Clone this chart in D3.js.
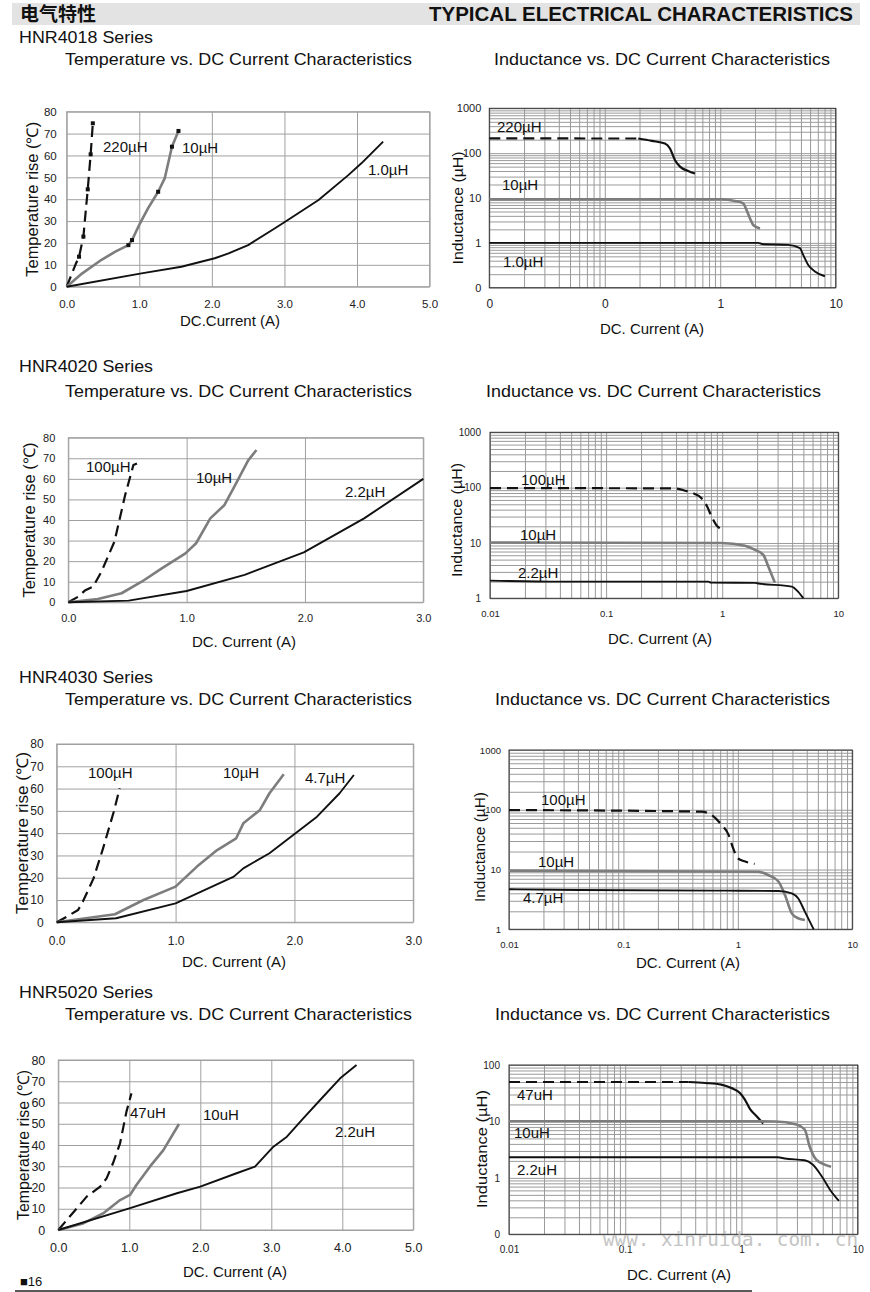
<!DOCTYPE html>
<html><head><meta charset="utf-8">
<script src="https://cdn.jsdelivr.net/npm/d3@7"></script>
<style>
body{margin:0;background:#fff}
svg{display:block}
text{font-family:"Liberation Sans",Arial,Helvetica,sans-serif;fill:#111}
</style>
</head><body>
<svg id="c" width="870" height="1292"></svg>
<script>
// ---------------- DATA ----------------
const tempYTicks = [0,10,20,30,40,50,60,70,80];
const tempXTicks5 = [0,1,2,3,4,5];
const tempXLabels5 = ["0.0","1.0","2.0","3.0","4.0","5.0"];
const tempXTicks3 = [0,1,2,3];
const tempXLabels3 = ["0.0","1.0","2.0","3.0"];

// HNR4018 temperature
const t1_220 = [[0,0],[0.12,10],[0.17,13.7],[0.23,22.9],[0.29,44.5],[0.33,60.5],[0.36,74.7]];
const t1_220_marks = [[0.17,13.7],[0.23,22.9],[0.29,44.5],[0.33,60.5],[0.36,74.7]];
const t1_10 = [[0,0],[0.21,6],[0.48,12.3],[0.67,16],[0.85,19],[0.9,21.3],[1.01,29],[1.12,35.8],[1.26,43.4],[1.35,49.5],[1.45,64],[1.54,71.2]];
const t1_10_marks = [[0.85,19],[0.9,21.3],[1.26,43.4],[1.45,64],[1.54,71.2]];
const t1_1 = [[0,0],[1.03,6.1],[1.58,9.1],[2.04,13],[2.23,15.2],[2.5,19],[2.87,26.7],[3.01,29.7],[3.47,39.6],[3.88,51],[4.06,56.4],[4.36,66.3]];

// HNR4018 inductance
const l1_xLabels = ["0","0","1","10"];
const l1_yLabels = ["0","1","10","100","1000"];
const l1_220 = [[0.01,213],[0.195,212],[0.255,188],[0.332,164],[0.367,127],[0.405,70],[0.448,50],[0.528,40],[0.604,35]];
const l1_10 = [[0.01,9.4],[1.03,9.4],[1.34,8.6],[1.58,7.6],[1.69,5.4],[1.81,3.5],[1.93,2.5],[2.21,2.1]];
const l1_1 = [[0.01,1.0],[2.14,1.0],[2.3,0.94],[3.88,0.9],[4.9,0.76],[5.23,0.54],[5.78,0.32],[6.6,0.23],[8.06,0.18]];

// HNR4020 temperature
const t2_100 = [[0,0],[0.085,2.75],[0.14,5.7],[0.21,7.6],[0.28,14.9],[0.39,29.5],[0.48,52],[0.55,66.7],[0.58,67.5]];
const t2_10 = [[0,0],[0.25,1.6],[0.45,4.4],[0.62,10],[0.79,16.5],[0.99,23.8],[1.08,28.7],[1.2,40.8],[1.32,47.3],[1.41,57],[1.52,69],[1.59,74]];
const t2_22 = [[0,0],[0.51,0.8],[1.0,5.5],[1.49,13.3],[1.99,24.3],[2.5,40.8],[3.0,60]];

// HNR4020 inductance
const logXLabels = ["0.01","0.1","1","10"];
const l2_yLabels = ["1","10","100","1000"];
const l2_100 = [[0.01,98],[0.39,97],[0.48,88],[0.58,77],[0.66,65],[0.74,46],[0.81,30],[0.89,21],[0.98,17.8]];
const l2_10 = [[0.01,10.2],[0.98,10.0],[1.57,8.9],[1.92,7.5],[2.26,6.1],[2.5,3.7],[2.84,1.92]];
const l2_22 = [[0.01,2.09],[0.04,2.0],[0.76,2.0],[0.8,1.92],[1.92,1.9],[2.0,1.87],[3.97,1.63],[4.5,1.32],[5.0,1.0]];

// HNR4030 temperature
const t3_100 = [[0,0],[0.084,2.5],[0.18,5.5],[0.22,9.3],[0.31,19.7],[0.39,33.2],[0.48,49.6],[0.53,60.1]];
const t3_10 = [[0,0],[0.49,3.6],[0.73,10],[1.0,16],[1.18,25],[1.35,32.4],[1.51,37.7],[1.57,44.4],[1.71,50.4],[1.79,57.9],[1.91,66.4]];
const t3_47 = [[0,0],[0.5,1.8],[1.0,8.5],[1.49,20.5],[1.57,24.2],[1.79,31],[1.99,39.2],[2.19,47.4],[2.38,57.9],[2.5,66.1]];

// HNR4030 inductance
const l3_100 = [[0.01,99],[0.48,93],[0.59,82],[0.72,56],[0.83,38],[0.91,22.6],[1.0,15.4],[1.16,13.6],[1.4,12.4]];
const l3_10 = [[0.01,9.6],[1.5,9.2],[1.84,8.1],[2.26,6.3],[2.58,3.75],[2.96,1.85],[3.36,1.53],[3.85,1.43]];
const l3_47 = [[0.01,4.67],[0.04,4.55],[0.77,4.43],[2.26,4.38],[2.96,4.0],[3.36,3.3],[3.85,1.98],[4.6,1.0]];

// HNR5020 temperature
const t4_47 = [[0,0],[0.4,15.7],[0.59,20.4],[0.68,24.3],[0.77,31.4],[0.87,40.8],[0.96,55.7],[1.03,64.3]];
const t4_10 = [[0,0],[0.35,3.1],[0.63,7.8],[0.87,14.1],[1.01,16.5],[1.1,21.2],[1.29,29.8],[1.48,37.6],[1.7,49.9]];
const t4_22 = [[0,0],[1.0,10.2],[1.67,17.3],[2.0,20.4],[2.51,26.7],[2.77,29.8],[3.03,39.2],[3.22,43.9],[3.45,52.5],[3.73,62.7],[3.97,71.4],[4.2,77.6]];

// HNR5020 inductance
const l4_yLabels = ["0","1","10","100"];
const l4_47 = [[0.01,50],[0.35,50],[0.49,48],[0.67,45],[0.82,39],[0.97,32],[1.07,24.4],[1.19,16.3],[1.35,12.4],[1.54,9.2]];
const l4_10 = [[0.01,10.1],[1.95,10.0],[2.98,8.8],[3.5,7.2],[3.86,3.6],[4.4,2.1],[5.2,1.72],[5.9,1.57]];
const l4_22 = [[0.01,2.32],[2.06,2.32],[2.36,2.2],[3.5,2.05],[4.1,1.72],[4.9,1.07],[5.9,0.58],[6.9,0.39]];

const seriesNames = ["HNR4018 Series","HNR4020 Series","HNR4030 Series","HNR5020 Series"];

// ---------------- DRAW ----------------
const svg = d3.select("#c");
const FONT = '"Liberation Sans",Arial,Helvetica,sans-serif';

const STY = {
  dash: {stroke:"#111", w:2.2, dash:"11,6"},
  gray: {stroke:"#7d7d7d", w:2.6, dash:null},
  solid:{stroke:"#111", w:1.9, dash:null}
};

function txt(x,y,s,opt={}){
  const t = svg.append("text").attr("x",x).attr("y",y).text(s)
    .attr("font-size",opt.size||15)
    .attr("font-weight",opt.bold?"bold":"normal")
    .attr("text-anchor",opt.anchor||"start");
  if(opt.len){t.attr("textLength",opt.len).attr("lengthAdjust","spacingAndGlyphs");}
  if(opt.fill) t.style("fill",opt.fill);
  if(opt.family) t.style("font-family",opt.family);
  return t;
}
function vtxt(cx,cy,s,size,len){
  const t = svg.append("text").attr("transform",`translate(${cx},${cy}) rotate(-90)`)
    .attr("text-anchor","middle").attr("dy","0.35em").attr("font-size",size).text(s);
  if(len) t.attr("textLength",len).attr("lengthAdjust","spacingAndGlyphs");
}

function drawSeries(g,x,y,s,curve){
  const st = STY[s.style];
  const line = d3.line().x(d=>x(d[0])).y(d=>y(d[1])).curve(curve);
  let parts = [{data:s.data,dash:st.dash}];
  if(s.dashTo!==undefined){
    parts = [{data:s.data.filter(d=>d[0]<=s.dashTo),dash:st.dash},
             {data:s.data.filter(d=>d[0]>=s.dashTo),dash:null}];
  }
  parts.forEach(pt=>{
    const p = g.append("path").datum(pt.data).attr("d",line).attr("fill","none")
      .attr("stroke",st.stroke).attr("stroke-width",st.w)
      .attr("stroke-linejoin","round");
    if(pt.dash) p.attr("stroke-dasharray",pt.dash);
  });
}

function tempChart(c){
  const x = d3.scaleLinear().domain([0,c.xmax]).range([c.l,c.r]);
  const y = d3.scaleLinear().domain([0,80]).range([c.b,c.t]);
  const g = svg.append("g");
  const h = c.b-c.t, w = c.r-c.l;
  const gx = g.append("g").attr("transform",`translate(0,${c.b})`)
    .call(d3.axisBottom(x).tickValues(c.xticks).tickSize(-h).tickPadding(c.xpad)
      .tickFormat((d,i)=>c.xlabels[i]));
  const gy = g.append("g").attr("transform",`translate(${c.l},0)`)
    .call(d3.axisLeft(y).tickValues(tempYTicks).tickSize(-w).tickPadding(c.ypad)
      .tickFormat(d=>String(d)));
  [gx,gy].forEach(a=>{
    a.select(".domain").remove();
    a.selectAll("line").attr("stroke","#a0a0a0").attr("stroke-width",1);
    a.selectAll("text").attr("font-size",c.fs).attr("font-family",FONT).style("fill","#222");
  });
  g.append("rect").attr("x",c.l).attr("y",c.t).attr("width",w).attr("height",h)
    .attr("fill","none").attr("stroke","#a0a0a0");
  c.series.forEach(s=>drawSeries(g,x,y,s,d3.curveLinear));
  (c.marks||[]).forEach(m=>{
    g.selectAll(null).data(m).enter().append("rect")
      .attr("x",d=>x(d[0])-2).attr("y",d=>y(d[1])-2).attr("width",4).attr("height",4).attr("fill","#111");
  });
  c.labels.forEach(l=>txt(l.x,l.y,l.t,{size:15}));
  vtxt(c.ytx,(c.t+c.b)/2,"Temperature rise (℃)",16,c.ytlen);
  txt(c.xtx,c.xty,c.xtitle,{size:15,anchor:"middle"});
}

function logTicks(lo,hi){
  const out=[];
  for(let d=lo; d<hi*0.999; d*=10){ for(let m=1;m<=9;m++) out.push(+(m*d).toPrecision(3)); }
  out.push(hi);
  return out;
}
function decades(lo,hi){const out=[];for(let d=lo;d<=hi*1.001;d*=10)out.push(+d.toPrecision(3));return out;}

function indChart(c){
  const x = d3.scaleLog().domain([0.01,10]).range([c.l,c.r]);
  const y = d3.scaleLog().domain([c.ymin,c.ymax]).range([c.b,c.t]);
  const g = svg.append("g");
  const h = c.b-c.t, w = c.r-c.l;
  const gx = g.append("g").attr("transform",`translate(0,${c.b})`)
    .call(d3.axisBottom(x).tickValues(logTicks(0.01,10)).tickSize(-h).tickFormat(""));
  const gy = g.append("g").attr("transform",`translate(${c.l},0)`)
    .call(d3.axisLeft(y).tickValues(logTicks(c.ymin,c.ymax)).tickSize(-w).tickFormat(""));
  [gx,gy].forEach(a=>{
    a.select(".domain").remove();
    a.selectAll("line").attr("stroke","#9a9a9a").attr("stroke-width",1);
  });
  const lx = g.append("g").attr("transform",`translate(0,${c.b})`)
    .call(d3.axisBottom(x).tickValues(decades(0.01,10)).tickSize(0).tickPadding(c.xpad)
      .tickFormat((d,i)=>c.xlabels[i]));
  const ly = g.append("g").attr("transform",`translate(${c.l},0)`)
    .call(d3.axisLeft(y).tickValues(decades(c.ymin,c.ymax)).tickSize(0).tickPadding(c.ypad)
      .tickFormat((d,i)=>c.ylabels[i]));
  lx.selectAll("text").attr("font-size",c.xfs).attr("font-family",FONT).style("fill","#222");
  ly.selectAll("text").attr("font-size",c.yfs).attr("font-family",FONT).style("fill","#222");
  [lx,ly].forEach(a=>a.select(".domain").remove());
  g.append("rect").attr("x",c.l).attr("y",c.t).attr("width",w).attr("height",h)
    .attr("fill","none").attr("stroke","#333").attr("stroke-width",1);
  c.series.forEach(s=>drawSeries(g,x,y,s,d3.curveMonotoneX));
  c.labels.forEach(l=>txt(l.x,l.y,l.t,{size:15}));
  vtxt(c.ytx,c.yty,"Inductance (µH)",15,c.ytlen);
  txt(c.xtx,c.xty,"DC. Current (A)",{size:15,anchor:"middle"});
}

// header band
svg.append("rect").attr("x",12).attr("y",3).attr("width",848).attr("height",22).attr("fill","#e3e3e3");
txt(20,21,"电气特性",{size:19,bold:true,family:'"Noto Sans CJK SC",sans-serif'});
txt(853,21,"TYPICAL ELECTRICAL CHARACTERISTICS",{size:20,bold:true,anchor:"end",len:424});

// section titles
const secY = [43,372,683,998];
const ttlY = [65,397,705,1020];
const indTitleX = [[494,336],[486,335],[495,335],[495,335]];
seriesNames.forEach((s,i)=>{
  txt(19,secY[i],s,{size:17,len:134});
  txt(65,ttlY[i],"Temperature vs. DC Current Characteristics",{size:17,len:347});
  txt(indTitleX[i][0],ttlY[i],"Inductance vs. DC Current Characteristics",{size:17,len:indTitleX[i][1]});
});

// Temperature charts
tempChart({l:66.7,r:429.6,t:111.7,b:286.7,xmax:5,xticks:tempXTicks5,xlabels:tempXLabels5,xpad:13,ypad:10,fs:11.5,
  series:[{data:t1_220,style:"dash"},{data:t1_10,style:"gray"},{data:t1_1,style:"solid"}],
  marks:[t1_220_marks,t1_10_marks],
  labels:[{x:103,y:152,t:"220µH"},{x:182,y:153,t:"10µH"},{x:368,y:175,t:"1.0µH"}],
  ytx:32,ytlen:155,xtx:230,xty:326,xtitle:"DC.Current (A)"});

tempChart({l:68.3,r:423.3,t:437.7,b:602.3,xmax:3,xticks:tempXTicks3,xlabels:tempXLabels3,xpad:12,ypad:13,fs:11,
  series:[{data:t2_100,style:"dash"},{data:t2_10,style:"gray"},{data:t2_22,style:"solid"}],
  labels:[{x:86,y:472,t:"100µH"},{x:196,y:483,t:"10µH"},{x:345,y:497,t:"2.2µH"}],
  ytx:29,ytlen:155,xtx:244,xty:647,xtitle:"DC. Current (A)"});

tempChart({l:56.7,r:413.3,t:744,b:922.3,xmax:3,xticks:tempXTicks3,xlabels:tempXLabels3,xpad:14,ypad:13,fs:12,
  series:[{data:t3_100,style:"dash"},{data:t3_10,style:"gray"},{data:t3_47,style:"solid"}],
  labels:[{x:88,y:778,t:"100µH"},{x:223,y:778,t:"10µH"},{x:305,y:783,t:"4.7µH"}],
  ytx:22,ytlen:162,xtx:234,xty:967,xtitle:"DC. Current (A)"});

tempChart({l:58.3,r:413.3,t:1060,b:1230,xmax:5,xticks:tempXTicks5,xlabels:tempXLabels5,xpad:13,ypad:13,fs:12.5,
  series:[{data:t4_47,style:"dash"},{data:t4_10,style:"gray"},{data:t4_22,style:"solid"}],
  labels:[{x:130,y:1118,t:"47uH"},{x:203,y:1120,t:"10uH"},{x:335,y:1137,t:"2.2uH"}],
  ytx:23,ytlen:150,xtx:235,xty:1277,xtitle:"DC. Current (A)"});

// Inductance charts
indChart({l:489.3,r:835.7,t:108.3,b:287.7,ymin:0.1,ymax:1000,xlabels:l1_xLabels,ylabels:l1_yLabels,
  xpad:12,ypad:8,xfs:12,yfs:11,
  series:[{data:l1_220,style:"dash",dashTo:0.195},{data:l1_10,style:"gray"},{data:l1_1,style:"solid"}],
  labels:[{x:497,y:132,t:"220µH"},{x:502,y:190,t:"10µH"},{x:503,y:267,t:"1.0µH"}],
  ytx:458,yty:208,ytlen:113,xtx:652,xty:334});

indChart({l:490,r:838.3,t:432.3,b:598.3,ymin:1,ymax:1000,xlabels:logXLabels,ylabels:l2_yLabels,
  xpad:12,ypad:9,xfs:9.5,yfs:10,
  series:[{data:l2_100,style:"dash"},{data:l2_10,style:"gray"},{data:l2_22,style:"solid"}],
  labels:[{x:521,y:485,t:"100µH"},{x:520,y:540,t:"10µH"},{x:518,y:578,t:"2.2µH"}],
  ytx:457,yty:520,ytlen:114,xtx:660,xty:644});

indChart({l:509,r:852.3,t:750,b:929.3,ymin:1,ymax:1000,xlabels:logXLabels,ylabels:l2_yLabels,
  xpad:12,ypad:8,xfs:9.5,yfs:9.5,
  series:[{data:l3_100,style:"dash"},{data:l3_10,style:"gray"},{data:l3_47,style:"solid"}],
  labels:[{x:541,y:805,t:"100µH"},{x:538,y:867,t:"10µH"},{x:523,y:903,t:"4.7µH"}],
  ytx:480,yty:847,ytlen:110,xtx:688,xty:968});

indChart({l:509,r:857.7,t:1065,b:1234.3,ymin:0.1,ymax:100,xlabels:logXLabels,ylabels:l4_yLabels,
  xpad:12,ypad:9,xfs:10,yfs:10,
  series:[{data:l4_47,style:"dash",dashTo:0.35},{data:l4_10,style:"gray"},{data:l4_22,style:"solid"}],
  labels:[{x:517,y:1100,t:"47uH"},{x:514,y:1138,t:"10uH"},{x:517,y:1175,t:"2.2uH"}],
  ytx:482,yty:1149,ytlen:118,xtx:679,xty:1280});

// watermark
txt(603,1246,"www. xinruida. com. cn",{size:20,len:255,fill:"#c4c4c4",family:'"DejaVu Sans Mono",monospace'});

// footer
txt(20,1286,"■16",{size:13});
svg.append("line").attr("x1",15).attr("x2",752).attr("y1",1291).attr("y2",1291).attr("stroke","#222").attr("stroke-width",1.5);
</script>
</body></html>
